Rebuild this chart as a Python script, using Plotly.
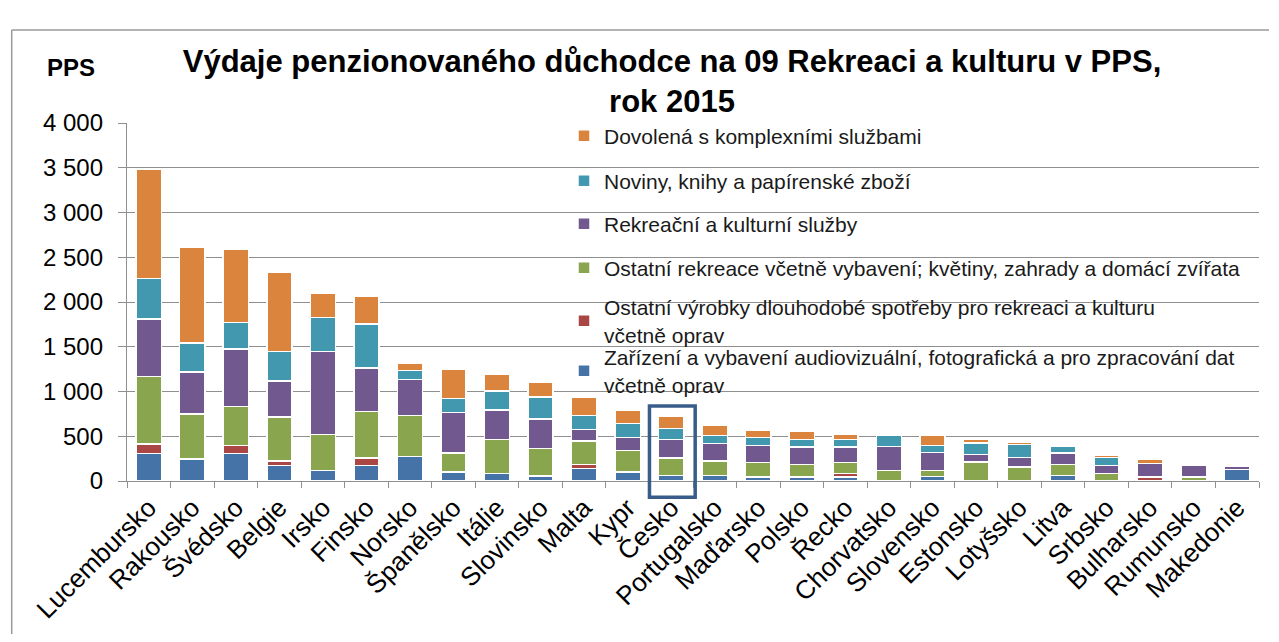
import plotly.graph_objects as go

categories = ["Lucembursko", "Rakousko", "Švédsko", "Belgie", "Irsko", "Finsko", "Norsko",
              "Španělsko", "Itálie", "Slovinsko", "Malta", "Kypr", "Česko", "Portugalsko",
              "Maďarsko", "Polsko", "Řecko", "Chorvatsko", "Slovensko", "Estonsko",
              "Lotyšsko", "Litva", "Srbsko", "Bulharsko", "Rumunsko", "Makedonie"]

s_audio = [306, 240, 306, 175, 120, 172, 276, 101, 83, 56, 138, 98, 60, 60, 45, 45, 45, 0, 53, 0, 0, 64, 0, 0, 0, 128]
s_durable = [110, 10, 90, 49, 0, 85, 0, 0, 0, 0, 45, 0, 0, 0, 0, 0, 41, 0, 0, 0, 0, 0, 0, 45, 0, 0]
s_other = [750, 500, 435, 490, 400, 520, 457, 212, 382, 305, 263, 245, 197, 164, 161, 142, 120, 120, 67, 212, 157, 119, 83, 0, 45, 0]
s_services = [643, 470, 642, 401, 925, 487, 401, 453, 331, 330, 127, 141, 208, 193, 192, 192, 173, 267, 197, 83, 104, 130, 89, 149, 130, 40]
s_news = [452, 320, 300, 330, 383, 493, 100, 156, 207, 245, 159, 156, 119, 89, 86, 86, 83, 119, 81, 129, 145, 78, 89, 0, 0, 0]
s_holiday = [1219, 1070, 813, 884, 270, 312, 86, 323, 190, 168, 204, 156, 141, 115, 81, 86, 55, 0, 108, 41, 29, 0, 26, 45, 0, 0]

series_names = [
    "Zařízení a vybavení audiovizuální, fotografická a pro zpracování dat<br>včetně oprav",
    "Ostatní výrobky dlouhodobé spotřeby pro rekreaci a kulturu<br>včetně oprav",
    "Ostatní rekreace včetně vybavení; květiny, zahrady a domácí zvířata",
    "Rekreační a kulturní služby",
    "Noviny, knihy a papírenské zboží",
    "Dovolená s komplexními službami",
]
series_values = [s_audio, s_durable, s_other, s_services, s_news, s_holiday]
colors = ["#4572A7", "#AA4643", "#89A54E", "#71588F", "#4198AF", "#DB843D"]

y_tickvals = [0, 500, 1000, 1500, 2000, 2500, 3000, 3500, 4000]
y_ticktext = ["0", "500", "1 000", "1 500", "2 000", "2 500", "3 000", "3 500", "4 000"]

title_text = "Výdaje penzionovaného důchodce na 09 Rekreaci a kulturu v PPS,<br>rok 2015"
unit_text = "PPS"

# The page places the figure 8 px from the window's top-left corner (body margin),
# so the figure is sized to stay inside the 1279x642 window without scrolling.
OFF = 8
W, H = 1279 - 2 * OFF, 642 - 2 * OFF
L, T = 127 - OFF, 123 - OFF
PW, PH = 1132, 358
R, B = W - L - PW, H - T - PH
FONT = "Liberation Sans, Arial, sans-serif"


def px_x(xs):
    """window x -> paper x"""
    return (xs - OFF - L) / PW


def px_y(ys):
    """window y -> paper y"""
    return (T + PH - (ys - OFF)) / PH


# legend vertical centres (window pixels), one legend per series
legend_centres = [371, 321, 268, 224, 181, 136]

fig = go.Figure()
legend_ids = ["legend", "legend2", "legend3", "legend4", "legend5", "legend6"]
for name, vals, col, lid in zip(series_names, series_values, colors, legend_ids):
    fig.add_trace(go.Bar(
        x=categories, y=vals, name=name,
        marker=dict(color=col, line=dict(color="white", width=1.5)),
        legend=lid,
    ))

legend_layout = {}
for lid, yc in zip(legend_ids, legend_centres):
    legend_layout[lid] = dict(
        x=px_x(564), xref="paper", xanchor="left",
        y=px_y(yc), yref="paper", yanchor="middle",
        bgcolor="rgba(0,0,0,0)", borderwidth=0,
        font=dict(family=FONT, size=21, color="#1a1a1a"),
        itemwidth=30,
    )

fig.update_layout(
    width=W, height=H,
    paper_bgcolor="white", plot_bgcolor="white",
    barmode="stack", bargap=0.42,
    margin=dict(l=L, r=R, t=T, b=B, autoexpand=False),
    font=dict(family=FONT, color="black"),
    title=dict(
        text="<b>" + title_text + "</b>",
        x=(672 - OFF) / W, xref="container", xanchor="center",
        y=1 - (72 - OFF) / H, yref="container", yanchor="middle",
        font=dict(family=FONT, size=31, color="black"),
    ),
    showlegend=True,
    **legend_layout,
)

fig.update_yaxes(
    range=[0, 4000], tickvals=y_tickvals, ticktext=y_ticktext,
    showgrid=True, gridcolor="#8f8f8f", gridwidth=1.3,
    showline=True, linecolor="#8f8f8f", linewidth=1.3,
    ticks="outside", ticklen=8, tickcolor="#8f8f8f", tickwidth=1.3,
    tickfont=dict(family=FONT, size=24, color="black"),
    ticklabelstandoff=10, automargin=False,
    zeroline=False,
)
fig.update_xaxes(
    showline=True, linecolor="#8f8f8f", linewidth=1.3,
    ticks="outside", tickson="boundaries", ticklen=6, tickcolor="#8f8f8f", tickwidth=1.3,
    tickangle=-45, automargin=False,
    tickfont=dict(family=FONT, size=26, color="black"),
    showgrid=False,
)

# unit label
fig.add_annotation(
    text="<b>" + unit_text + "</b>", xref="paper", yref="paper",
    x=px_x(71), y=px_y(68), xanchor="center", yanchor="middle",
    showarrow=False, font=dict(family=FONT, size=24, color="black"),
)

# highlight box around Česko
fig.add_shape(
    type="rect", xref="x", yref="paper",
    x0=11.5, x1=12.55, y0=px_y(497.3), y1=px_y(406),
    line=dict(color="#385D8A", width=3.5), fillcolor="rgba(0,0,0,0)",
)

# chart-area frame (left and top edges)
fig.add_shape(type="line", xref="paper", yref="paper",
              x0=px_x(11.7), x1=px_x(11.7), y0=px_y(636), y1=px_y(30),
              line=dict(color="#9a9a9a", width=1.5))
fig.add_shape(type="line", xref="paper", yref="paper",
              x0=px_x(11.7), x1=px_x(1269), y0=px_y(30), y1=px_y(30),
              line=dict(color="#9a9a9a", width=1.5))

fig.write_html("out.html")
